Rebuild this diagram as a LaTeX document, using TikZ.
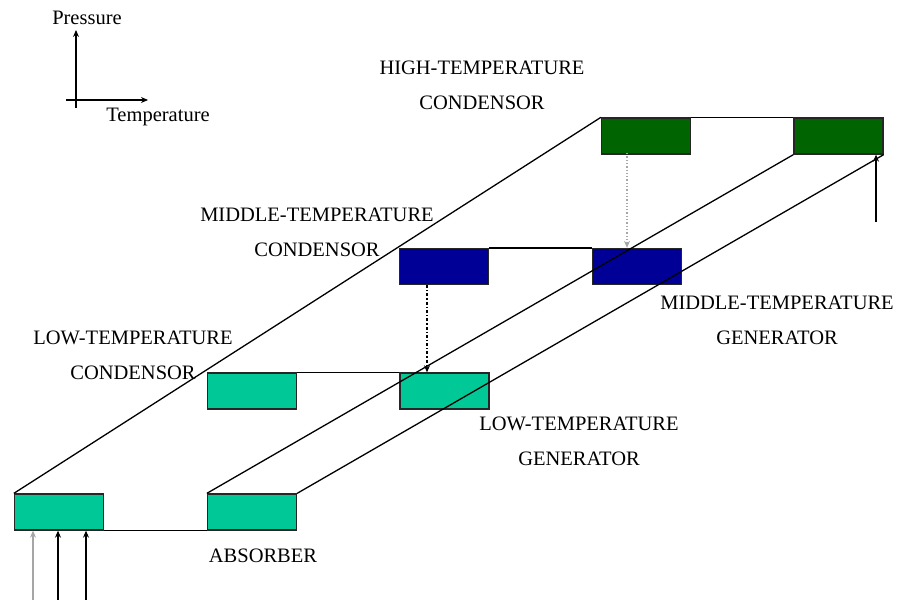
\documentclass[tikz,border=0pt]{standalone}
\usepackage{fontspec}
\setmainfont{Liberation Serif}
\usetikzlibrary{arrows.meta}
\definecolor{lowteal}{RGB}{0,200,150}
\definecolor{midblue}{RGB}{0,0,150}
\definecolor{highgreen}{RGB}{0,100,0}
\tikzset{
  unit/.style={draw=black!85, line width=1.3pt, inner sep=0pt,
    minimum width=89pt, minimum height=36pt},
  pipe/.style={line width=1.3pt, black},
  tip/.style={-{Stealth[length=7pt,width=6pt]}},
  lbl/.style={font=\fontsize{20.5}{23}\selectfont, inner sep=0pt, align=center},
  axlbl/.style={font=\fontsize{20.5}{23}\selectfont, inner sep=0pt}
}
\begin{document}
\begin{tikzpicture}[x=1pt, y=-1pt]
\useasboundingbox (0,0) rectangle (897,600);

% axes legend
\coordinate (ax0) at (76,108);
\coordinate (ax1) at (76,30);
\coordinate (ay0) at (66,100);
\coordinate (ay1) at (148,100);
\draw[pipe, tip] (ax0) -- (ax1);
\draw[pipe, tip] (ay0) -- (ay1);
\node[axlbl] (pres) at (87,18) {Pressure};
\node[axlbl] (temp) at (158,117) {Temperature};

% components
\node[unit, fill=lowteal]   (absl) at (59,512) {};
\node[unit, fill=lowteal]   (absr) at (252,512) {};
\node[unit, fill=lowteal]   (ltc)  at (252,391) {};
\node[unit, fill=lowteal]   (ltg)  at (444.5,391) {};
\node[unit, fill=midblue]   (mtc)  at (444,266.5) {};
\node[unit, fill=midblue]   (mtg)  at (637,266.5) {};
\node[unit, fill=highgreen] (htc)  at (646,136) {};
\node[unit, fill=highgreen] (htg)  at (838.5,136) {};

% horizontal connections
\draw[pipe] (absl.south east) -- (absr.south west);
\draw[pipe] (ltc.north east) -- (ltg.north west);
\draw[pipe] (mtc.north east) -- (mtg.north west);
\draw[pipe] (htc.north east) -- (htg.north west);

% diagonal connections
\draw[pipe] (absl.north west) -- (htc.north west);
\draw[pipe] (absr.north west) -- (htg.south west);
\draw[pipe] (absr.north east) -- (htg.south east);

% heat flows between stages
\coordinate (h1) at (627,153);
\coordinate (h2) at (427,285);
\draw[line width=1.3pt, black!35, dotted, tip] (h1) -- (h1 |- mtg.north);
\draw[line width=1.3pt, black, dash dot, tip] (h2) -- (h2 |- ltg.north);

% external heat inputs
\coordinate (q1) at (33,600);
\coordinate (q2) at (58,600);
\coordinate (q3) at (86,600);
\coordinate (q4) at (876,222);
\draw[line width=1.3pt, black!35, tip] (q1) -- (q1 |- absl.south);
\draw[pipe, tip] (q2) -- (q2 |- absl.south);
\draw[pipe, tip] (q3) -- (q3 |- absl.south);
\draw[pipe, tip] (q4) -- (q4 |- htg.south);

% labels
\node[lbl] (lhtc) at (482,85) {HIGH-TEMPERATURE\\[12pt]CONDENSOR};
\node[lbl] (lmtc) at (317,232) {MIDDLE-TEMPERATURE\\[12pt]CONDENSOR};
\node[lbl] (lmtg) at (777,320) {MIDDLE-TEMPERATURE\\[12pt]GENERATOR};
\node[lbl] (lltc) at (133,355) {LOW-TEMPERATURE\\[12pt]CONDENSOR};
\node[lbl] (lltg) at (579,441) {LOW-TEMPERATURE\\[12pt]GENERATOR};
\node[lbl] (labs) at (263,556) {ABSORBER};
\end{tikzpicture}
\end{document}
